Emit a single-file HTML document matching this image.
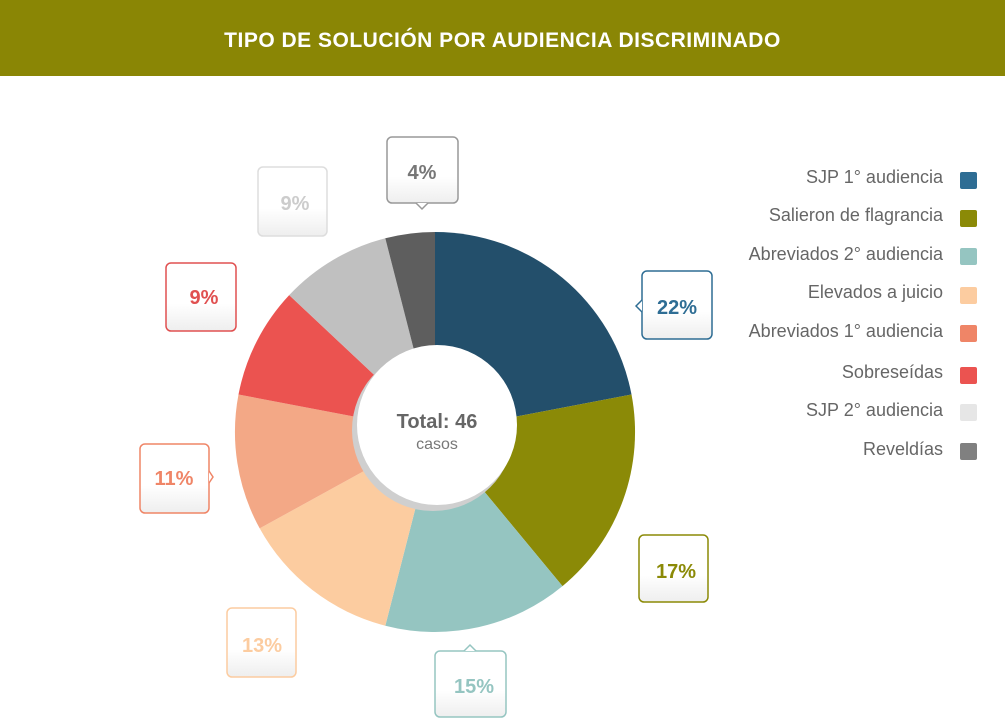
<!DOCTYPE html>
<html><head><meta charset="utf-8"><style>
body{margin:0;width:1005px;height:722px;background:#fff;font-family:"Liberation Sans",sans-serif;overflow:hidden;position:relative}
.hd{position:absolute;left:0;top:0;width:1005px;height:76px;background:#8a8605;color:#fff;font-weight:bold;font-size:21px;text-align:center;line-height:82px;letter-spacing:0.5px}
.lg{position:absolute;right:62px;font-size:18px;color:#666;text-align:right;white-space:nowrap}
.sq{position:absolute;left:960px;width:17px;height:17px;border-radius:2px}
</style></head><body>
<div class="hd">TIPO DE SOLUCIÓN POR AUDIENCIA DISCRIMINADO</div>
<svg width="1005" height="722" style="position:absolute;left:0;top:0">
<defs><linearGradient id="g" x1="0" y1="0" x2="0" y2="1"><stop offset="0.6" stop-color="#fff"/><stop offset="1" stop-color="#eee"/></linearGradient></defs>
<g id="pie"></g>
<circle cx="433" cy="430" r="81" fill="#cfcfcf"/>
<circle cx="437" cy="425" r="80" fill="#fff"/>
<text x="437" y="428" text-anchor="middle" font-size="20" font-weight="bold" fill="#666">Total: 46</text>
<text x="437" y="449" text-anchor="middle" font-size="16" fill="#777">casos</text>
<g font-size="20" font-weight="bold" text-anchor="middle" stroke-width="1.5">
<rect x="387" y="137" width="71" height="66" rx="5" fill="url(#g)" stroke="#999"/><path d="M416 203 L422 209 L428 203" fill="#fff" stroke="#999"/><text x="422" y="179" fill="#777">4%</text>
<rect x="258" y="167" width="69" height="69" rx="5" fill="url(#g)" stroke="#ddd"/><text x="295" y="210" fill="#ccc">9%</text>
<rect x="642" y="271" width="70" height="68" rx="5" fill="url(#g)" stroke="#2e6d94"/><path d="M642 300 L636 306 L642 312" fill="#fff" stroke="#2e6d94"/><text x="677" y="314" fill="#2e6d94">22%</text>
<rect x="166" y="263" width="70" height="68" rx="5" fill="url(#g)" stroke="#e05050"/><text x="204" y="304" fill="#e05050">9%</text>
<rect x="140" y="444" width="69" height="69" rx="5" fill="url(#g)" stroke="#ef8567"/><path d="M209 471 L213 477 L209 483" fill="#fff" stroke="#ef8567"/><text x="174" y="485" fill="#ef8567">11%</text>
<rect x="639" y="535" width="69" height="67" rx="5" fill="url(#g)" stroke="#8b8a07"/><text x="676" y="578" fill="#8b8a07">17%</text>
<rect x="227" y="608" width="69" height="69" rx="5" fill="url(#g)" stroke="#fccca0"/><text x="262" y="652" fill="#fccca0">13%</text>
<rect x="435" y="651" width="71" height="66" rx="5" fill="url(#g)" stroke="#95c5c1"/><path d="M464 651 L470 645 L476 651" fill="#fff" stroke="#95c5c1"/><text x="474" y="693" fill="#95c5c1">15%</text>
</g>
</svg>
<div class="lg" style="top:167px">SJP 1° audiencia</div><div class="sq" style="top:172px;background:#2e6d94"></div>
<div class="lg" style="top:205px">Salieron de flagrancia</div><div class="sq" style="top:210px;background:#8b8a07"></div>
<div class="lg" style="top:244px">Abreviados 2° audiencia</div><div class="sq" style="top:248px;background:#95c5c1"></div>
<div class="lg" style="top:282px">Elevados a juicio</div><div class="sq" style="top:287px;background:#fccca0"></div>
<div class="lg" style="top:321px">Abreviados 1° audiencia</div><div class="sq" style="top:325px;background:#ef8567"></div>
<div class="lg" style="top:362px">Sobreseídas</div><div class="sq" style="top:367px;background:#eb5350"></div>
<div class="lg" style="top:400px">SJP 2° audiencia</div><div class="sq" style="top:404px;background:#e6e6e6"></div>
<div class="lg" style="top:439px">Reveldías</div><div class="sq" style="top:443px;background:#808080"></div>
<script>
var d=[22,17,15,13,11,9,9,4],c=["#234f6b","#8b8a07","#95c5c1","#fccca0","#f3a886","#eb5350","#c0c0c0","#5e5e5e"];
var cx=435,cy=432,r=200,a=0,s="";
for(var i=0;i<8;i++){var b=a+d[i]*3.6;var p=function(t){t=t*Math.PI/180;return (cx+r*Math.sin(t)).toFixed(1)+" "+(cy-r*Math.cos(t)).toFixed(1)};
s+='<path d="M'+cx+' '+cy+' L'+p(a)+' A'+r+' '+r+' 0 '+(b-a>180?1:0)+' 1 '+p(b)+' Z" fill="'+c[i]+'"/>';a=b;}
document.getElementById("pie").innerHTML=s;
</script>
</body></html>
